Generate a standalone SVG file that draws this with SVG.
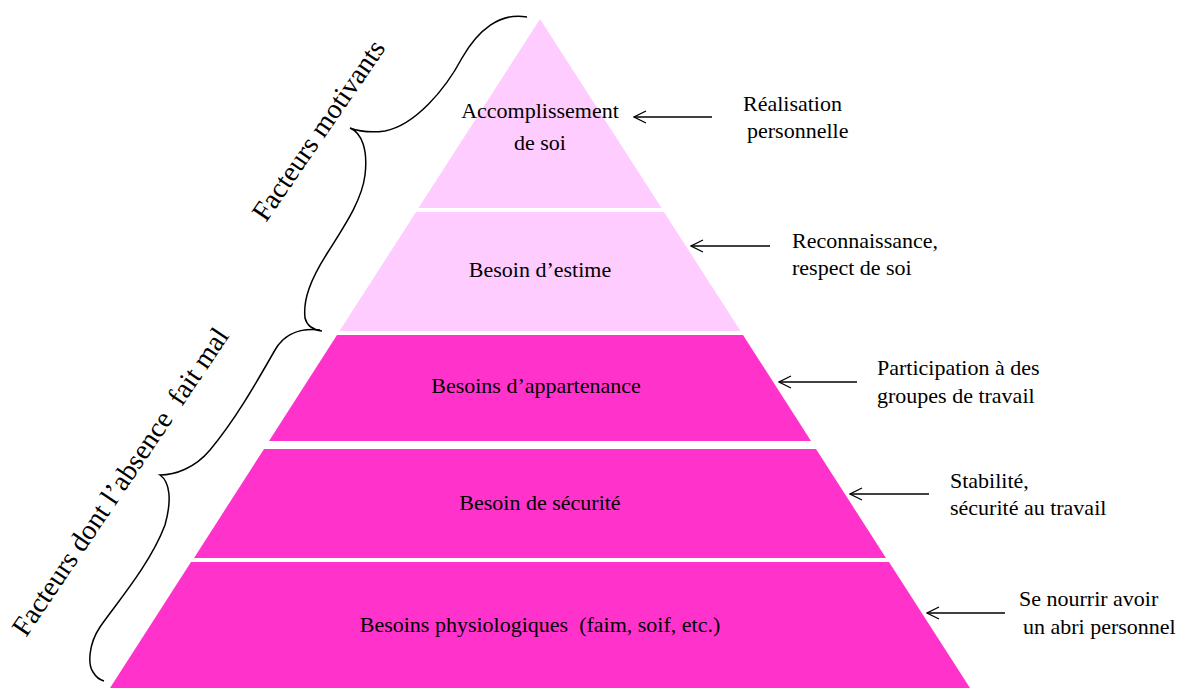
<svg xmlns="http://www.w3.org/2000/svg" width="1187" height="688" viewBox="0 0 1187 688">
<defs>
<marker id="open" markerWidth="14" markerHeight="14" refX="13" refY="7" orient="auto" markerUnits="userSpaceOnUse">
<path d="M1,1 L13,7 L1,13" fill="none" stroke="#000" stroke-width="1.3"/>
</marker>
</defs>
<style>
text{font-family:"Liberation Serif","Times New Roman",serif;fill:#000}
.lbl{font-size:22px;text-anchor:middle}
.side{font-size:22px}
.rot{font-size:28px}
.light{fill:#FFCCFF}
.dark{fill:#FF33CC}
.arr{stroke:#000;stroke-width:1.3;fill:none;marker-end:url(#open)}
.brace{stroke:#000;stroke-width:1.5;fill:none}
</style>
<rect width="1187" height="688" fill="#fff"/>
<g id="level5">
<polygon class="light" points="540,19 661.5,208 418.5,208"/>
<text class="lbl" x="540" y="118" font-family="Liberation Serif, serif">Accomplissement</text>
<text class="lbl" x="540" y="150" font-family="Liberation Serif, serif">de soi</text>
</g>
<g id="level4">
<polygon class="light" points="416,212 664,212 740.5,331 339.5,331"/>
<text class="lbl" x="540" y="277" font-family="Liberation Serif, serif">Besoin d’estime</text>
</g>
<g id="level3">
<polygon class="dark" points="337,335 743,335 811,441 269,441"/>
<text class="lbl" x="536" y="393" font-family="Liberation Serif, serif">Besoins d’appartenance</text>
</g>
<g id="level2">
<polygon class="dark" points="264,449 816,449 886,558 194,558"/>
<text class="lbl" x="540" y="510" font-family="Liberation Serif, serif">Besoin de sécurité</text>
</g>
<g id="level1">
<polygon class="dark" points="191,562 889,562 970,688 110,688"/>
<text class="lbl" x="540" y="632" font-family="Liberation Serif, serif" xml:space="preserve">Besoins physiologiques  (faim, soif, etc.)</text>
</g>
<g id="desc5" font-family="Liberation Serif, serif"><text class="side" x="743" y="111">Réalisation</text><text class="side" x="747" y="138">personnelle</text></g>
<g id="desc4" font-family="Liberation Serif, serif"><text class="side" x="792" y="248">Reconnaissance,</text><text class="side" x="792" y="275">respect de soi</text></g>
<g id="desc3" font-family="Liberation Serif, serif"><text class="side" x="877" y="375">Participation à des</text><text class="side" x="877" y="403">groupes de travail</text></g>
<g id="desc2" font-family="Liberation Serif, serif"><text class="side" x="950" y="488">Stabilité,</text><text class="side" x="950" y="515">sécurité au travail</text></g>
<g id="desc1" font-family="Liberation Serif, serif"><text class="side" x="1019" y="606">Se nourrir avoir</text><text class="side" x="1023" y="634">un abri personnel</text></g>
<g id="group-motivants">
<path class="brace" d="M527,17 C500,12 478,30 462,58 C445,90 415,125 385,131 C370,133 358,131 350,128 C362,133 368,150 365,175 C362,200 345,225 328,252 C310,280 303,300 305,318 C307,326 314,330 322,331"/>
<text class="rot" font-family="Liberation Serif, serif" transform="translate(266,223) rotate(-55.5)">Facteurs motivants</text>
</g>
<g id="group-absence">
<path class="brace" d="M320,330 C300,328 285,333 275,350 C255,385 235,420 210,450 C195,468 175,475 160,475 C170,482 172,500 165,525 C150,565 115,605 100,627 C88,645 88,665 93,672 C96,677 100,680 104,681"/>
<text class="rot" font-family="Liberation Serif, serif" transform="translate(26,638) rotate(-56)" xml:space="preserve">Facteurs dont l’absence  fait mal</text>
</g>
<g id="connectors">
<line class="arr" x1="712" y1="117" x2="634" y2="117"/>
<line class="arr" x1="770" y1="246" x2="691" y2="246"/>
<line class="arr" x1="857" y1="382" x2="779" y2="382"/>
<line class="arr" x1="929" y1="494" x2="850" y2="494"/>
<line class="arr" x1="1005" y1="613" x2="927" y2="613"/>
</g>
</svg>
